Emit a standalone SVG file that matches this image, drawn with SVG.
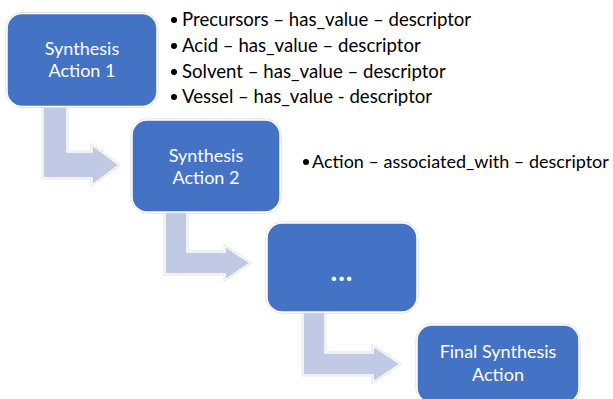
<svg xmlns="http://www.w3.org/2000/svg" width="613" height="399" viewBox="0 0 613 399">
<style>
.box{fill:#4472C4;stroke:#ffffff;stroke-width:1.5}
.boxo{fill:none;stroke:#d6d6d6;stroke-width:1}
.arr{fill:#C0CAE5;stroke:#ffffff;stroke-width:1.5}
.arro{fill:none;stroke:#dcdcdc;stroke-width:0.8}
.lbl{font-family:Lato,"Liberation Sans",sans-serif;font-size:18px;fill:#ffffff;text-anchor:middle}
.dots{font-family:Lato,"Liberation Sans",sans-serif;font-size:28px;font-weight:bold;fill:#ffffff;text-anchor:middle;letter-spacing:1px}
.bul{font-family:Lato,"Liberation Sans",sans-serif;font-size:18.6px;fill:#000000}
.bul2{font-family:Lato,"Liberation Sans",sans-serif;font-size:18px;fill:#000000}
</style>
<rect width="613" height="399" fill="#ffffff"/>
<g id="connectors">
<path class="arr" d="M43,106 L67,106 L67,152 L92,152 L92,145 L119,165 L92,185 L92,178 L43,178 Z"/>
<path class="arro" d="M42,106 L68,106 L68,151 L91,151 L91,143.5 L120.5,165 L91,186.5 L91,179 L42,179 Z"/>
<path class="arr" d="M165,211 L187,211 L187,252 L225,252 L225,246 L250,263 L225,280 L225,274 L165,274 Z"/>
<path class="arro" d="M164,211 L188,211 L188,251 L224,251 L224,244.5 L251.5,263 L224,281.5 L224,275 L164,275 Z"/>
<path class="arr" d="M303,311 L325,311 L325,353 L373,353 L373,346 L400,364 L373,382 L373,375 L303,375 Z"/>
<path class="arro" d="M302,311 L326,311 L326,352 L372,352 L372,344.5 L401.5,364 L372,383.5 L372,376 L302,376 Z"/>
</g>
<g id="node1">
<rect class="boxo" x="6" y="12.5" width="152" height="95" rx="16"/>
<rect class="box" x="7" y="13.5" width="150" height="93" rx="15"/>
<text class="lbl" x="82" y="55">Synthesis</text>
<text class="lbl" x="82" y="77">Action 1</text>
</g>
<g id="node2">
<rect class="boxo" x="131" y="119" width="150" height="94" rx="16"/>
<rect class="box" x="132" y="120" width="148" height="92" rx="15"/>
<text class="lbl" x="206" y="162">Synthesis</text>
<text class="lbl" x="206" y="184">Action 2</text>
</g>
<g id="node3">
<rect class="boxo" x="266" y="222" width="152" height="91" rx="16"/>
<rect class="box" x="267" y="223" width="150" height="89" rx="15"/>
<text class="dots" x="342" y="281">...</text>
</g>
<g id="node4">
<rect class="boxo" x="416" y="324" width="164" height="80" rx="16"/>
<rect class="box" x="417" y="325" width="162" height="78" rx="15"/>
<text class="lbl" x="498" y="358">Final Synthesis</text>
<text class="lbl" x="498" y="381">Action</text>
</g>
<g id="bullets1">
<circle cx="174" cy="20" r="3"/>
<text class="bul" x="182" y="26">Precursors – has_value – descriptor</text>
<circle cx="174" cy="46" r="3"/>
<text class="bul" x="182" y="52">Acid – has_value – descriptor</text>
<circle cx="174" cy="72" r="3"/>
<text class="bul" x="182" y="78">Solvent – has_value – descriptor</text>
<circle cx="174" cy="97" r="3"/>
<text class="bul" x="182" y="103">Vessel – has_value - descriptor</text>
</g>
<g id="bullets2">
<circle cx="306" cy="162" r="3"/>
<text class="bul2" x="312" y="168">Action – associated_with – descriptor</text>
</g>
</svg>
